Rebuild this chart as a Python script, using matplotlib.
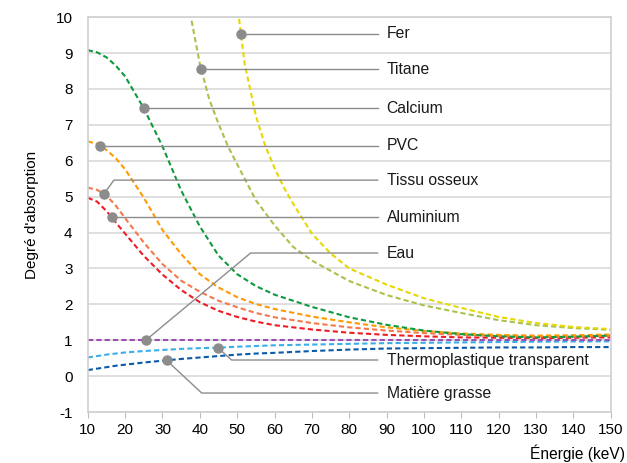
import matplotlib.pyplot as plt
import numpy as np

plt.rcParams['font.family'] = ['Liberation Sans', 'DejaVu Sans']
plt.rcParams['axes.unicode_minus'] = False

# energies (keV)
x_common = [10, 12.5, 15, 17.5, 20, 25, 30, 35, 40, 45, 50, 55, 60, 70, 80, 90, 100, 110, 120, 130, 140, 150]
x_fer = [50.5, 52, 55, 57.5, 60, 62.5, 65, 70, 75, 80, 90, 100, 110, 120, 130, 140, 150]
x_titane = [37.8, 40, 42.5, 45, 47.5, 50, 55, 60, 65, 70, 80, 90, 100, 110, 120, 130, 140, 150]

# degre d'absorption
y_fer = [9.95, 8.7, 7.25, 6.42, 5.8, 5.25, 4.8, 3.97, 3.42, 3.0, 2.55, 2.17, 1.9, 1.65, 1.48, 1.37, 1.31]
y_titane = [9.9, 8.7, 7.72, 7.03, 6.41, 5.9, 4.9, 4.2, 3.6, 3.22, 2.65, 2.26, 1.97, 1.76, 1.56, 1.42, 1.34, 1.29]
y_calcium = [9.08, 9.02, 8.88, 8.65, 8.35, 7.46, 6.4, 5.17, 4.17, 3.36, 2.84, 2.51, 2.27, 1.93, 1.64, 1.43, 1.27, 1.17, 1.11, 1.08, 1.1, 1.13]
y_pvc = [6.54, 6.47, 6.3, 6.07, 5.76, 4.97, 4.07, 3.4, 2.84, 2.47, 2.2, 2.01, 1.87, 1.66, 1.5, 1.36, 1.26, 1.19, 1.15, 1.13, 1.14, 1.16]
y_tissu = [5.25, 5.19, 5.03, 4.75, 4.4, 3.72, 3.12, 2.66, 2.35, 2.1, 1.92, 1.76, 1.64, 1.48, 1.36, 1.27, 1.2, 1.15, 1.12, 1.1, 1.1, 1.12]
y_alu = [4.97, 4.86, 4.6, 4.28, 3.97, 3.35, 2.83, 2.4, 2.06, 1.82, 1.65, 1.52, 1.42, 1.3, 1.21, 1.15, 1.11, 1.08, 1.07, 1.06, 1.07, 1.08]
y_eau = [1.0] * len(x_common)
y_thermo = [0.52, 0.56, 0.6, 0.63, 0.66, 0.7, 0.73, 0.76, 0.78, 0.795, 0.82, 0.84, 0.86, 0.88, 0.9, 0.92, 0.93, 0.94, 0.95, 0.96, 0.965, 0.97]
y_grasse = [0.17, 0.21, 0.25, 0.29, 0.32, 0.38, 0.43, 0.48, 0.52, 0.56, 0.6, 0.63, 0.65, 0.7, 0.74, 0.77, 0.78, 0.79, 0.8, 0.8, 0.81, 0.81]

x_ticks = list(range(10, 151, 10))
y_ticks = list(range(-1, 11))

series = [
    ('Matière grasse', x_common, y_grasse, '#0b5aa8'),
    ('Thermoplastique transparent', x_common, y_thermo, '#3aaee8'),
    ('Eau', x_common, y_eau, '#9b4fb0'),
    ('Aluminium', x_common, y_alu, '#ee1c25'),
    ('Tissu osseux', x_common, y_tissu, '#f5784a'),
    ('PVC', x_common, y_pvc, '#ff9a00'),
    ('Calcium', x_common, y_calcium, '#0e9a3e'),
    ('Titane', x_titane, y_titane, '#a9c14e'),
    ('Fer', x_fer, y_fer, '#e6d800'),
]

fig = plt.figure(figsize=(6.27, 4.63), dpi=100)
ax = fig.add_axes([0.140, 0.110, 0.834, 0.853])

for i in y_ticks:
    ax.axhline(i, color='#d9d9d9', lw=1.2, zorder=0)

for name, xs, ys, col in series:
    ax.plot(xs, ys, color=col, lw=1.5, dashes=(2.5, 1.5), zorder=2)

# etiquettes : (nom, x du point, coude x, y etiquette)
labels = [
    ('Fer', 51.0, None, None),
    ('Titane', 40.4, None, None),
    ('Calcium', 25.0, None, None),
    ('PVC', 13.2, None, None),
    ('Tissu osseux', 14.3, 17.0, 5.46),
    ('Aluminium', 16.4, None, None),
    ('Eau', 25.5, 53.6, 3.43),
    ('Thermoplastique transparent', 44.8, 48.5, 0.45),
    ('Matière grasse', 31.1, 40.5, -0.47),
]
line_end = 87.6
text_x = 90.0
lookup = {s[0]: s for s in series}
for name, xd, xe, ye in labels:
    _, xs, ys, _ = lookup[name]
    yd = np.interp(xd, xs, ys)
    if xe is None:
        px = [xd, line_end]
        py = [yd, yd]
        ye = yd
    else:
        px = [xd, xe, line_end]
        py = [yd, ye, ye]
    ax.plot(px, py, color='#8c8c8c', lw=1.0, zorder=3)
    ax.plot([xd], [yd], 'o', color='#8c8c8c', ms=6.5, zorder=4)
    ax.text(text_x, ye, name, fontsize=11.3, color='#1a1a1a', va='center', ha='left', zorder=5)

ax.set_xlim(10, 150)
ax.set_ylim(-1, 10)
ax.set_xticks(x_ticks)
ax.set_yticks(y_ticks)
ax.tick_params(axis='x', length=4, color='#bfbfbf', labelsize=11, pad=4)
ax.tick_params(axis='y', length=0, labelsize=11, pad=11)
for side in ['left', 'right', 'top', 'bottom']:
    ax.spines[side].set_color('#d0d0d0')
    ax.spines[side].set_linewidth(1.2)

ax.set_ylabel("Degré d'absorption", fontsize=11, labelpad=12)
fig.text(0.997, 0.022, 'Énergie (keV)', fontsize=11.2, ha='right', va='center')

plt.savefig('out.png', dpi=100)
